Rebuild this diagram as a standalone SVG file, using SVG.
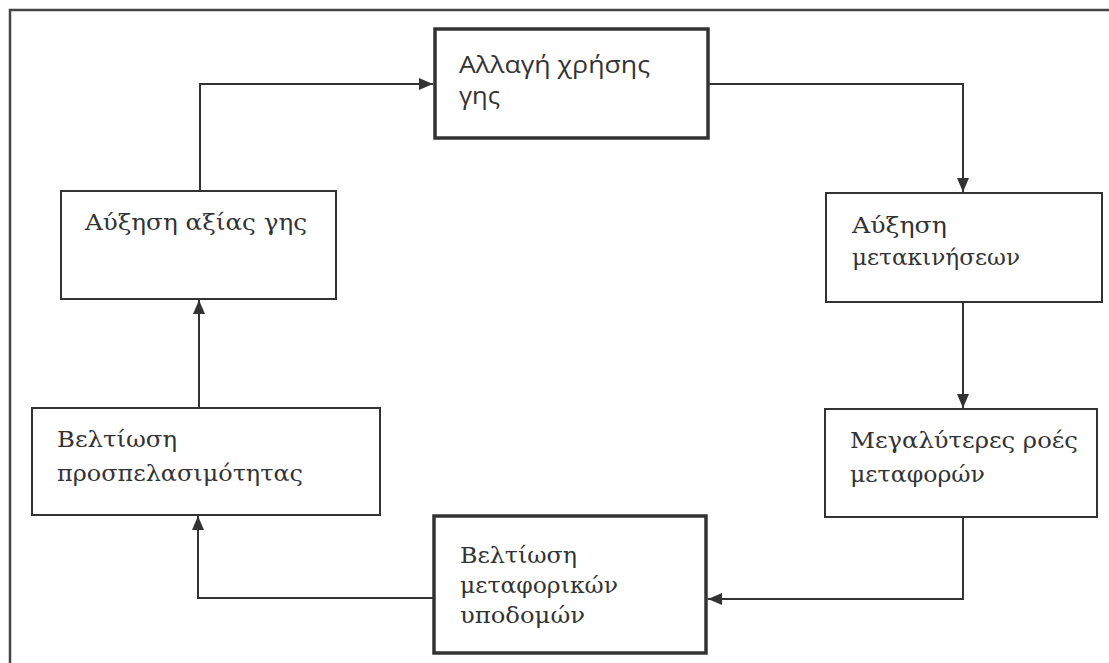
<svg xmlns="http://www.w3.org/2000/svg" width="1109" height="663" viewBox="0 0 1109 663">
<style>
.box{fill:#fff;stroke:#333;stroke-width:2}
.bold{stroke-width:3.5}
.t{font-family:"DejaVu Serif","Liberation Serif",serif;font-size:23px;fill:#333}
.s{font-family:"Open Sans","Noto Sans",sans-serif;font-size:24px;fill:#333}
.c{fill:none;stroke:#333;stroke-width:2}
</style>
<defs>
<marker id="ah" viewBox="0 0 14 12" refX="14" refY="6" markerWidth="14" markerHeight="12" markerUnits="userSpaceOnUse" orient="auto">
<path d="M0,0 L14,6 L0,12 Z" fill="#333"/>
</marker>
</defs>
<rect width="1109" height="663" fill="#fff"/>
<path d="M10,663 V10 H1109" fill="none" stroke="#444" stroke-width="2.5"/>
<g id="connectors">
<path class="c" d="M200,191 V84 H433" marker-end="url(#ah)"/>
<path class="c" d="M708,84 H963 V192" marker-end="url(#ah)"/>
<path class="c" d="M963,302 V408" marker-end="url(#ah)"/>
<path class="c" d="M963,517 V599 H708" marker-end="url(#ah)"/>
<path class="c" d="M433,598 H198 V516" marker-end="url(#ah)"/>
<path class="c" d="M199,408 V300" marker-end="url(#ah)"/>
</g>
<g id="n1">
<rect class="box bold" x="435" y="29" width="273" height="109"/>
<text class="s" x="459" y="73" textLength="191" lengthAdjust="spacingAndGlyphs">Αλλαγή χρήσης</text>
<text class="s" x="459" y="104" textLength="41" lengthAdjust="spacingAndGlyphs">γης</text>
</g>
<g id="n2">
<rect class="box" x="826" y="193" width="276" height="109"/>
<text class="t" x="852" y="233" textLength="95" lengthAdjust="spacingAndGlyphs">Αύξηση</text>
<text class="t" x="852" y="265" textLength="168" lengthAdjust="spacingAndGlyphs">μετακινήσεων</text>
</g>
<g id="n3">
<rect class="box" x="825" y="409" width="272" height="108"/>
<text class="t" x="850" y="448" textLength="228" lengthAdjust="spacingAndGlyphs">Μεγαλύτερες ροές</text>
<text class="t" x="850" y="482" textLength="135" lengthAdjust="spacingAndGlyphs">μεταφορών</text>
</g>
<g id="n4">
<rect class="box bold" x="434" y="516" width="272" height="137"/>
<text class="t" x="460" y="563" textLength="117" lengthAdjust="spacingAndGlyphs">Βελτίωση</text>
<text class="t" x="460" y="593" textLength="158" lengthAdjust="spacingAndGlyphs">μεταφορικών</text>
<text class="t" x="460" y="623" textLength="125" lengthAdjust="spacingAndGlyphs">υποδομών</text>
</g>
<g id="n5">
<rect class="box" x="32" y="408" width="348" height="107"/>
<text class="t" x="57" y="447" textLength="120" lengthAdjust="spacingAndGlyphs">Βελτίωση</text>
<text class="t" x="57" y="481" textLength="246" lengthAdjust="spacingAndGlyphs">προσπελασιμότητας</text>
</g>
<g id="n6">
<rect class="box" x="61" y="191" width="275" height="108"/>
<text class="t" x="85" y="230" textLength="222" lengthAdjust="spacingAndGlyphs">Αύξηση αξίας γης</text>
</g>
</svg>
